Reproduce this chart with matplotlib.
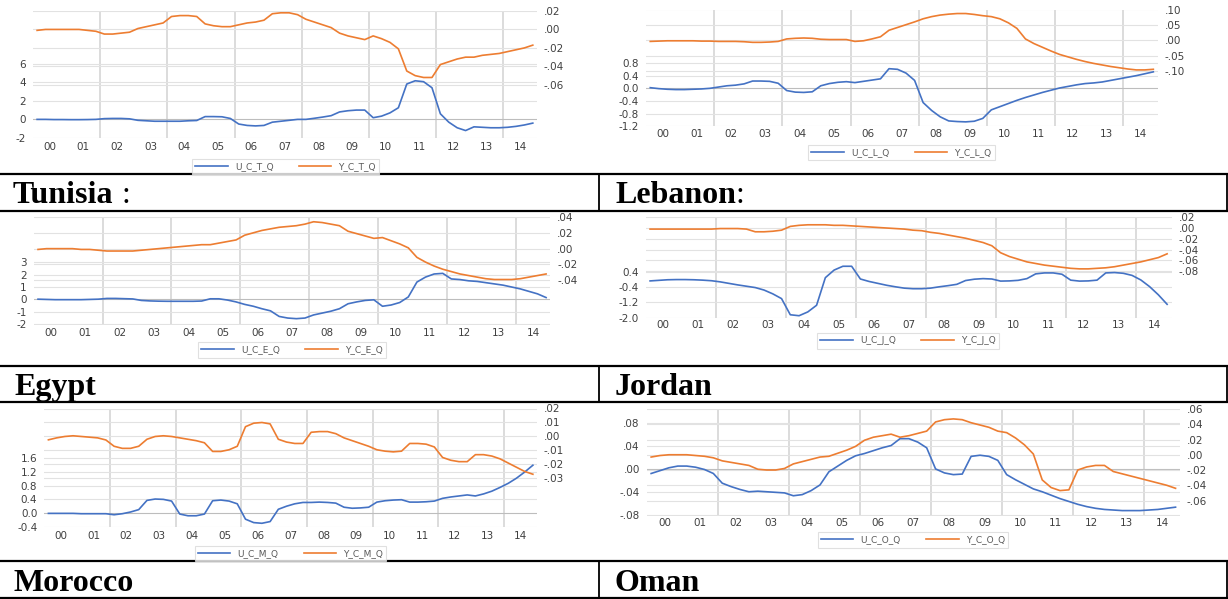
import numpy as np
import matplotlib
matplotlib.use("Agg")
import matplotlib.pyplot as plt
from matplotlib.lines import Line2D
from matplotlib.transforms import blended_transform_factory

W, H = 1228, 599

# quarterly data, 2000Q1 .. 2014Q4
quarters = 2000 + (np.arange(60) + 0.5) / 4
year_mid = np.arange(2000.5, 2015, 1.0)
year_labels = ['00', '01', '02', '03', '04', '05', '06', '07',
               '08', '09', '10', '11', '12', '13', '14']

u_tunisia = [0.0, 0.0, -0.02, -0.02, -0.03, -0.03, -0.02, 0.0,
             0.08, 0.1, 0.1, 0.06, -0.1, -0.15, -0.2, -0.2,
             -0.2, -0.2, -0.15, -0.12, 0.3, 0.3, 0.28, 0.1,
             -0.5, -0.65, -0.7, -0.65, -0.3, -0.2, -0.1, 0.0,
             0.0, 0.12, 0.25, 0.4, 0.8, 0.93, 1.0, 1.0,
             0.18, 0.35, 0.7, 1.25, 3.8, 4.15, 4.05, 3.4,
             0.6, -0.3, -0.9, -1.2, -0.8, -0.85, -0.9, -0.9,
             -0.85, -0.75, -0.6, -0.4]
y_tunisia = [-0.001, 0.0, 0.0, 0.0, 0.0, 0.0, -0.001, -0.002,
             -0.005, -0.005, -0.004, -0.003, 0.001, 0.003, 0.005, 0.007,
             0.014, 0.015, 0.015, 0.014, 0.006, 0.004, 0.003, 0.003,
             0.005, 0.007, 0.008, 0.010, 0.017, 0.018, 0.018, 0.016,
             0.011, 0.008, 0.005, 0.002, -0.004, -0.007, -0.009, -0.011,
             -0.007, -0.010, -0.014, -0.021, -0.045, -0.050, -0.052, -0.052,
             -0.038, -0.035, -0.032, -0.030, -0.030, -0.028, -0.027, -0.026,
             -0.024, -0.022, -0.020, -0.017]

u_lebanon = [0.02, -0.01, -0.03, -0.04, -0.04, -0.03, -0.02, 0.0,
             0.04, 0.08, 0.10, 0.14, 0.23, 0.23, 0.22, 0.16,
             -0.07, -0.12, -0.13, -0.11, 0.08, 0.15, 0.19, 0.21,
             0.18, 0.22, 0.26, 0.30, 0.62, 0.60, 0.48, 0.25,
             -0.45, -0.70, -0.90, -1.03, -1.05, -1.06, -1.04, -0.95,
             -0.68, -0.58, -0.48, -0.38, -0.29, -0.21, -0.13, -0.06,
             0.01, 0.06, 0.11, 0.15, 0.17, 0.20, 0.25, 0.30,
             0.35, 0.40, 0.46, 0.52]
y_lebanon = [-0.003, -0.002, -0.001, -0.001, -0.001, -0.001, -0.002, -0.002,
             -0.003, -0.003, -0.003, -0.004, -0.006, -0.006, -0.005, -0.003,
             0.005, 0.007, 0.008, 0.007, 0.004, 0.003, 0.003, 0.003,
             -0.003, -0.001, 0.005, 0.012, 0.033, 0.042, 0.051, 0.060,
             0.070, 0.077, 0.082, 0.085, 0.087, 0.087, 0.084, 0.080,
             0.077, 0.070, 0.057, 0.039, 0.005, -0.010, -0.022, -0.034,
             -0.045, -0.053, -0.061, -0.068, -0.074, -0.079, -0.084, -0.088,
             -0.092, -0.095, -0.095, -0.093]

u_egypt = [0.02, 0.0, -0.02, -0.02, -0.02, -0.02, 0.0, 0.02,
           0.08, 0.08, 0.06, 0.04, -0.08, -0.12, -0.14, -0.15,
           -0.15, -0.15, -0.15, -0.13, 0.05, 0.05, -0.05, -0.20,
           -0.40, -0.55, -0.75, -0.92, -1.37, -1.50, -1.55, -1.50,
           -1.25, -1.10, -0.95, -0.75, -0.35, -0.20, -0.08, -0.03,
           -0.55, -0.45, -0.25, 0.20, 1.40, 1.80, 2.05, 2.10,
           1.65, 1.60, 1.50, 1.45, 1.35, 1.25, 1.15, 1.00,
           0.85, 0.65, 0.45, 0.15]
y_egypt = [-0.001, 0.0, 0.0, 0.0, 0.0, -0.001, -0.001, -0.002,
           -0.003, -0.003, -0.003, -0.003, -0.002, -0.001, 0.0, 0.001,
           0.002, 0.003, 0.004, 0.005, 0.005, 0.007, 0.009, 0.011,
           0.017, 0.020, 0.023, 0.025, 0.027, 0.028, 0.029, 0.031,
           0.034, 0.033, 0.031, 0.029, 0.022, 0.019, 0.016, 0.013,
           0.014, 0.010, 0.006, 0.001, -0.011, -0.017, -0.022, -0.026,
           -0.029, -0.032, -0.034, -0.036, -0.038, -0.039, -0.039, -0.039,
           -0.038, -0.036, -0.034, -0.032]

u_jordan = [-0.07, -0.04, -0.01, 0.0, 0.0, -0.01, -0.03, -0.06,
            -0.12, -0.20, -0.28, -0.35, -0.42, -0.55, -0.75, -1.0,
            -1.85, -1.90, -1.70, -1.35, 0.10, 0.50, 0.70, 0.70,
            0.03, -0.10, -0.20, -0.30, -0.38, -0.45, -0.48, -0.48,
            -0.45, -0.38, -0.32, -0.25, -0.05, 0.02, 0.05, 0.03,
            -0.08, -0.07, -0.04, 0.05, 0.30, 0.35, 0.35, 0.28,
            -0.03, -0.08, -0.07, -0.03, 0.35, 0.37, 0.33, 0.22,
            -0.02, -0.37, -0.80, -1.30]
y_jordan = [-0.002, -0.002, -0.002, -0.002, -0.002, -0.002, -0.002, -0.002,
            -0.001, -0.001, -0.001, -0.002, -0.007, -0.007, -0.006, -0.004,
            0.003, 0.005, 0.006, 0.006, 0.006, 0.005, 0.005, 0.004,
            0.003, 0.002, 0.001, 0.0, -0.001, -0.002, -0.004, -0.005,
            -0.008, -0.010, -0.013, -0.016, -0.019, -0.023, -0.027, -0.033,
            -0.046, -0.053, -0.058, -0.063, -0.066, -0.069, -0.071, -0.073,
            -0.075, -0.076, -0.076, -0.075, -0.074, -0.072, -0.069, -0.066,
            -0.063, -0.059, -0.055, -0.048]

u_morocco = [-0.01, -0.01, -0.01, -0.01, -0.02, -0.02, -0.02, -0.02,
             -0.05, -0.02, 0.03, 0.10, 0.37, 0.41, 0.40, 0.35,
             -0.03, -0.08, -0.08, -0.03, 0.36, 0.38, 0.35, 0.27,
             -0.18, -0.28, -0.30, -0.25, 0.11, 0.20, 0.27, 0.31,
             0.31, 0.32, 0.31, 0.29, 0.17, 0.14, 0.15, 0.17,
             0.32, 0.36, 0.38, 0.39, 0.32, 0.32, 0.33, 0.35,
             0.43, 0.47, 0.50, 0.53, 0.50, 0.56, 0.64, 0.75,
             0.87, 1.02, 1.20, 1.40]
y_morocco = [-0.0024, -0.001, 0.0, 0.0005, 0.0, -0.0005, -0.001, -0.0025,
             -0.007, -0.0085, -0.0085, -0.007, -0.002, 0.0, 0.0005, 0.0,
             -0.001, -0.002, -0.003, -0.0045, -0.0107, -0.0107, -0.0095, -0.007,
             0.007, 0.0095, 0.010, 0.009, -0.002, -0.004, -0.005, -0.005,
             0.003, 0.0035, 0.0035, 0.002, -0.001, -0.003, -0.005, -0.007,
             -0.0095, -0.0105, -0.011, -0.0105, -0.005, -0.005, -0.0055, -0.0075,
             -0.015, -0.017, -0.018, -0.018, -0.013, -0.013, -0.014, -0.016,
             -0.019, -0.022, -0.025, -0.027]

u_oman = [-0.008, -0.003, 0.002, 0.005, 0.005, 0.003, -0.001, -0.008,
          -0.025, -0.031, -0.036, -0.040, -0.039, -0.040, -0.041, -0.042,
          -0.047, -0.045, -0.038, -0.028, -0.005, 0.005, 0.015, 0.023,
          0.027, 0.032, 0.037, 0.041, 0.053, 0.053, 0.047, 0.037,
          0.0, -0.007, -0.010, -0.009, 0.022, 0.024, 0.022, 0.015,
          -0.010, -0.019, -0.027, -0.035, -0.040, -0.046, -0.052, -0.057,
          -0.062, -0.066, -0.069, -0.071, -0.072, -0.073, -0.073, -0.073,
          -0.072, -0.071, -0.069, -0.067]
y_oman = [-0.003, -0.001, 0.0, 0.0, 0.0, -0.001, -0.002, -0.004,
          -0.008, -0.010, -0.012, -0.014, -0.019, -0.020, -0.020, -0.018,
          -0.012, -0.009, -0.006, -0.003, -0.002, 0.002, 0.006, 0.011,
          0.019, 0.023, 0.025, 0.027, 0.023, 0.025, 0.028, 0.031,
          0.043, 0.046, 0.047, 0.046, 0.042, 0.039, 0.036, 0.031,
          0.029, 0.022, 0.013, 0.001, -0.033, -0.043, -0.047, -0.046,
          -0.020, -0.016, -0.014, -0.014, -0.022, -0.025, -0.028, -0.031,
          -0.034, -0.037, -0.040, -0.044]

# axis ticks (left = U series, right = Y series)
lt_tunisia = [-2, 0, 2, 4, 6]
rt_tunisia = [0.02, 0.0, -0.02, -0.04, -0.06]
lt_lebanon = [-1.2, -0.8, -0.4, 0.0, 0.4, 0.8]
rt_lebanon = [0.10, 0.05, 0.0, -0.05, -0.10]
lt_egypt = [-2, -1, 0, 1, 2, 3]
rt_egypt = [0.04, 0.02, 0.0, -0.02, -0.04]
lt_jordan = [-2.0, -1.2, -0.4, 0.4]
rt_jordan = [0.02, 0.0, -0.02, -0.04, -0.06, -0.08]
lt_morocco = [-0.4, 0.0, 0.4, 0.8, 1.2, 1.6]
rt_morocco = [0.02, 0.01, 0.0, -0.01, -0.02, -0.03]
lt_oman = [-0.08, -0.04, 0.0, 0.04, 0.08]
rt_oman = [0.06, 0.04, 0.02, 0.0, -0.02, -0.04, -0.06]

BLUE = '#4472C4'
ORANGE = '#ED7D31'
TXT = '#404040'
GRID = '#e2e2e2'


def px(x0, y0, x1, y1):
    return [x0 / W, 1 - y1 / H, (x1 - x0) / W, (y1 - y0) / H]


def fmt(v, style):
    if style == 'int':
        return f'{v:.0f}'
    if style == '1f':
        return f'{v:.1f}'
    return f'{v:.2f}'.replace('0.', '.', 1)


fig = plt.figure(figsize=(W / 100, H / 100), dpi=100)
fig.patch.set_facecolor('white')


def draw_chart(rect, u, y, names, lt, llim, lstyle, rt, rlim, xpad, legend_c):
    ax = fig.add_axes(px(*rect))
    ax2 = ax.twinx()
    ax.set_xlim(2000, 2015)
    ax.set_ylim(*llim)
    ax2.set_ylim(*rlim)
    for a in (ax, ax2):
        for s in a.spines.values():
            s.set_visible(False)
        a.tick_params(length=0, labelsize=7.5, colors=TXT, pad=5)
    ax.tick_params(axis='x', pad=xpad)
    ax.set_xticks(year_mid)
    ax.set_xticklabels(year_labels)
    ax.set_yticks(lt)
    ax.set_yticklabels([fmt(v, lstyle) for v in lt])
    ax2.set_yticks(rt)
    ax2.set_yticklabels([fmt(v, '2f') for v in rt])

    for yr in range(2002, 2015, 2):
        ax.axvline(yr, color='#d9d9d9', lw=1.3, zorder=0)
    for v in lt:
        ax.axhline(v, color='#bdbdbd' if v == 0 else GRID, lw=0.8, zorder=0)
    tr = blended_transform_factory(ax.transAxes, ax2.transData)
    for v in rt:
        ax.plot([0, 1], [v, v], transform=tr, color=GRID, lw=0.8, zorder=0)

    l1, = ax.plot(quarters, u, color=BLUE, lw=1.2, zorder=3)
    l2, = ax2.plot(quarters, y, color=ORANGE, lw=1.2, zorder=3)

    leg = fig.legend([l1, l2], names, loc='center',
                     bbox_to_anchor=(legend_c[0] / W, 1 - legend_c[1] / H),
                     ncol=2, fontsize=6.5, frameon=True, fancybox=False,
                     edgecolor='#d9d9d9', handlelength=3.6, handletextpad=0.8,
                     columnspacing=2.8, borderpad=0.35)
    leg.get_frame().set_linewidth(0.8)
    for t in leg.get_texts():
        t.set_color('#595959')


draw_chart((32.9, 10.5, 537, 138), u_tunisia, y_tunisia, ['U_C_T_Q', 'Y_C_T_Q'],
           lt_tunisia, (-2.0, 11.7), 'int', rt_tunisia, (-0.1175, 0.0205), 2.6, (285.5, 167))
draw_chart((646, 9.5, 1157.6, 126.3), u_lebanon, y_lebanon, ['U_C_L_Q', 'Y_C_L_Q'],
           lt_lebanon, (-1.2, 2.49), '1f', rt_lebanon, (-0.277, 0.10), 1.8, (901.5, 152.5))
draw_chart((33.7, 217, 550.4, 325), u_egypt, y_egypt, ['U_C_E_Q', 'Y_C_E_Q'],
           lt_egypt, (-2.06, 6.64), 'int', rt_egypt, (-0.0965, 0.04), 2.0, (292, 350))
draw_chart((645.7, 217, 1171.5, 318), u_jordan, y_jordan, ['U_C_J_Q', 'Y_C_J_Q'],
           lt_jordan, (-2.02, 3.29), '1f', rt_jordan, (-0.1674, 0.0205), 1.6, (908, 341))
draw_chart((44.3, 408.5, 537, 526.7), u_morocco, y_morocco, ['U_C_M_Q', 'Y_C_M_Q'],
           lt_morocco, (-0.39, 3.06), '1f', rt_morocco, (-0.0645, 0.0193), 2.8, (290.5, 553.5))
draw_chart((646.7, 409, 1180, 516.3), u_oman, y_oman, ['U_C_O_Q', 'Y_C_O_Q'],
           lt_oman, (-0.083, 0.105), '2f', rt_oman, (-0.0807, 0.0583), 1.4, (913, 540))

# table rules
for yy in [174.3, 211.3, 366, 402, 561, 598.3]:
    fig.add_artist(Line2D([0, 1], [1 - yy / H] * 2, transform=fig.transFigure,
                          color='black', lw=1.6))
for top, bot in [(174.3, 211.3), (366, 402), (561, 598.3)]:
    for xx in [599, 1227]:
        fig.add_artist(Line2D([xx / W] * 2, [1 - top / H, 1 - bot / H],
                              transform=fig.transFigure, color='black', lw=1.3))

# country labels
renderer = fig.canvas.get_renderer()
labels = [('Tunisia', ' :', 13, 203.3), ('Lebanon', ':', 615, 203.3),
          ('Egypt', '', 14, 395), ('Jordan', '', 615, 395),
          ('Morocco', '', 14, 590.7), ('Oman', '', 614, 590.7)]
for name, tail, x, yb in labels:
    t = fig.text(x / W, 1 - yb / H, name, fontsize=23, fontweight='bold',
                 family='Liberation Serif', va='baseline', color='black')
    if tail:
        bb = t.get_window_extent(renderer=renderer)
        fig.text(bb.x1 / W, 1 - yb / H, tail, fontsize=23,
                 family='Liberation Serif', va='baseline', color='black')

fig.savefig('out.png', dpi=100, facecolor='white')
